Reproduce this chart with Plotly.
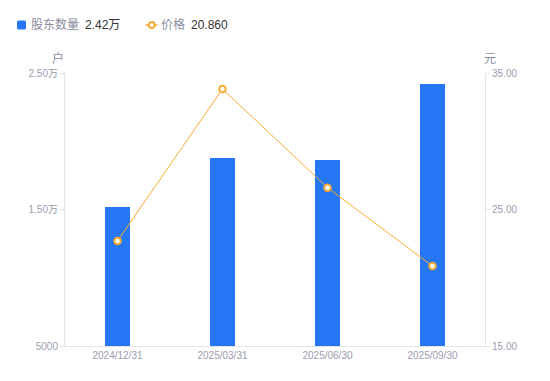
import plotly.graph_objects as go

categories = ["2024/12/31", "2025/03/31", "2025/06/30", "2025/09/30"]
holders = [15200, 18760, 18620, 24200]
prices = [22.70, 33.83, 26.60, 20.86]

left_ticks = [5000, 15000, 25000]
left_labels = ["5000", "1.50万", "2.50万"]
right_ticks = [15, 25, 35]
right_labels = ["15.00", "25.00", "35.00"]

holder_name = "股东数量"
price_name = "价格"
holder_latest = f"{holders[-1] / 10000:.2f}万"
price_latest = f"{prices[-1]:.3f}"

BLUE = "#2577F6"
ORANGE = "#FAAA33"
TICKC = "#9a9cae"
LINEC = "#e3e4e8"
LABELC = "#8a8c9c"
DARK = "#333333"
FONT = "Liberation Sans, Arial, Noto Sans CJK SC, sans-serif"
CJK = "Liberation Sans, Noto Sans CJK SC, sans-serif"

# page body has an 8px margin; plot area in window px: x 65..485, y 73..346
OFF = 8
W, H = 550 - OFF, 381 - OFF
PL, PR, PT, PB = 65, 485, 73, 346


def px(xw):
    return (xw - PL) / (PR - PL)


def py(yw):
    return (PB - yw) / (PB - PT)


fig = go.Figure()
fig.add_trace(go.Bar(
    x=categories, y=holders, yaxis="y", name=holder_name,
    marker=dict(color=BLUE, line=dict(width=0)),
    width=0.24,
))
fig.add_trace(go.Scatter(
    x=categories, y=prices, yaxis="y2", mode="lines+markers", name=price_name,
    line=dict(color=ORANGE, width=1),
    marker=dict(symbol="circle", size=6.5, color="white", line=dict(color=ORANGE, width=2)),
))

LEG_Y = 25
annotations = [
    dict(text=holder_name, x=px(31), y=py(LEG_Y), xanchor="left",
         font=dict(size=12, color=LABELC, family=CJK)),
    dict(text=holder_latest, x=px(85), y=py(LEG_Y), xanchor="left",
         font=dict(size=12, color=DARK, family=CJK)),
    dict(text=price_name, x=px(161), y=py(LEG_Y), xanchor="left",
         font=dict(size=12, color=LABELC, family=CJK)),
    dict(text=price_latest, x=px(191), y=py(LEG_Y), xanchor="left",
         font=dict(size=12, color=DARK, family=CJK)),
    dict(text="户", x=px(58), y=py(57), xanchor="center",
         font=dict(size=12, color=LABELC, family="Noto Sans CJK SC")),
    dict(text="元", x=px(490), y=py(57), xanchor="center",
         font=dict(size=12, color=LABELC, family="Noto Sans CJK SC")),
]
for a in annotations:
    a.update(xref="paper", yref="paper", showarrow=False, yanchor="middle",
             xshift=0, yshift=0, borderpad=0)
for a in annotations[:4]:
    a["xshift"] = -1

# rounded legend square
x0, x1, y0, y1, r = px(17), px(26), py(29.5), py(20.5), 1.5
rx, ry = r / (PR - PL), r / (PB - PT)
sq_path = (f"M{x0+rx},{y0} L{x1-rx},{y0} Q{x1},{y0} {x1},{y0+ry} "
           f"L{x1},{y1-ry} Q{x1},{y1} {x1-rx},{y1} L{x0+rx},{y1} "
           f"Q{x0},{y1} {x0},{y1-ry} L{x0},{y0+ry} Q{x0},{y0} {x0+rx},{y0} Z")

shapes = [
    dict(type="path", xref="paper", yref="paper", path=sq_path,
         fillcolor=BLUE, line=dict(width=0)),
    dict(type="line", xref="paper", yref="paper",
         x0=px(145.5), x1=px(157.5), y0=py(LEG_Y), y1=py(LEG_Y),
         line=dict(color=ORANGE, width=1.5)),
    dict(type="circle", xref="paper", yref="paper",
         x0=px(148.8), x1=px(154.6), y0=py(27.9), y1=py(22.1),
         fillcolor="white", line=dict(color=ORANGE, width=2)),
]

fig.update_layout(
    width=W, height=H,
    margin=dict(l=PL - OFF, r=W - (PR - OFF), t=PT - OFF, b=H - (PB - OFF), autoexpand=False),
    plot_bgcolor="white", paper_bgcolor="white",
    font=dict(family=FONT, size=10, color=TICKC),
    showlegend=False,
    xaxis=dict(
        type="category", range=[-0.5, 3.5], showgrid=False, automargin=False,
        showline=True, linecolor=LINEC, linewidth=1,
        ticks="", tickfont=dict(size=10, color=TICKC), zeroline=False,
    ),
    yaxis=dict(
        range=[5000, 25000], tickvals=left_ticks, ticktext=left_labels, automargin=False,
        showgrid=False, zeroline=False, showline=True, linecolor=LINEC, linewidth=1,
        ticks="outside", ticklen=4, tickcolor=LINEC, tickfont=dict(size=10, color=TICKC),
    ),
    yaxis2=dict(
        range=[15, 35], tickvals=right_ticks, ticktext=right_labels, automargin=False,
        overlaying="y", side="right",
        showgrid=False, zeroline=False, showline=True, linecolor=LINEC, linewidth=1,
        ticks="outside", ticklen=4, tickcolor=LINEC, tickfont=dict(size=10, color=TICKC),
    ),
    annotations=annotations,
    shapes=shapes,
    bargap=0,
)

fig.write_html("out.html")
